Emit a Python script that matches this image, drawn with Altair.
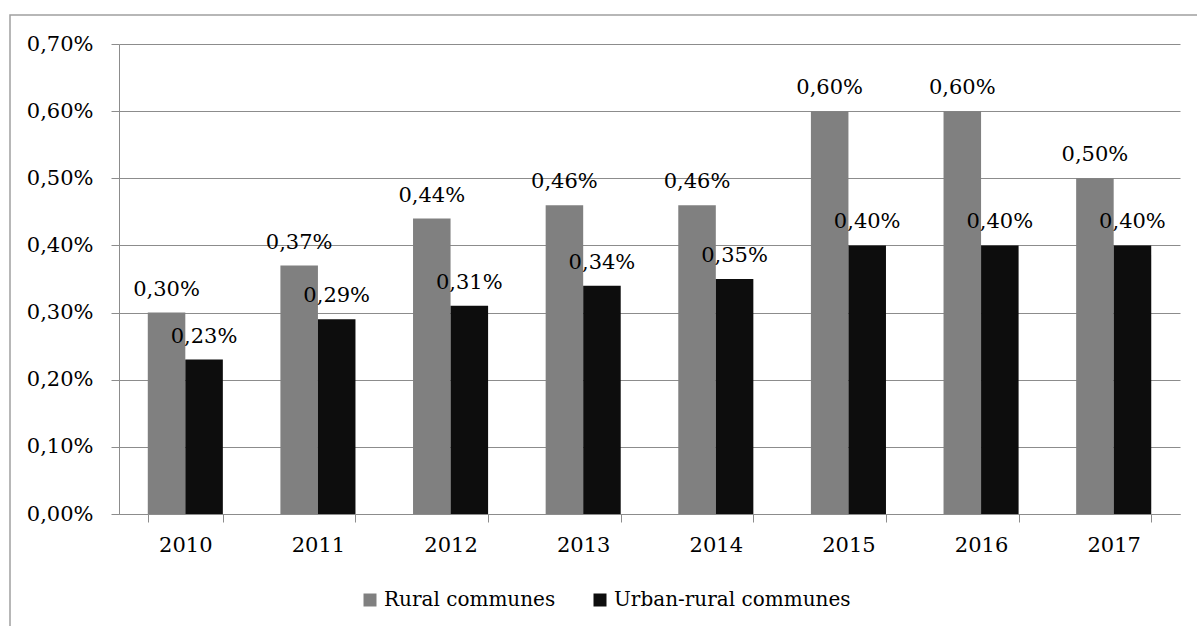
import altair as alt
import pandas as pd

years = ["2010", "2011", "2012", "2013", "2014", "2015", "2016", "2017"]
rural = [0.30, 0.37, 0.44, 0.46, 0.46, 0.60, 0.60, 0.50]
urban = [0.23, 0.29, 0.31, 0.34, 0.35, 0.40, 0.40, 0.40]
series = ["Rural communes", "Urban-rural communes"]
colors = ["#808080", "#0d0d0d"]
y_ticks = [0.0, 0.1, 0.2, 0.3, 0.4, 0.5, 0.6, 0.7]

rows = []
for i, yr in enumerate(years):
    for s, vals in zip(series, [rural, urban]):
        v = vals[i]
        rows.append({"year": yr, "series": s, "value": v,
                     "label": f"{v:.2f}%".replace(".", ",")})
df = pd.DataFrame(rows)

W, H = 1061, 470
FONT = "DejaVu Serif"
FS = 21
GRID = "#8c8c8c"

x_enc = alt.X("year:N", sort=years,
              scale=alt.Scale(paddingInner=0.434, paddingOuter=0.217),
              axis=alt.Axis(title=None, labelAngle=0, tickBand="extent", tickSize=8,
                            tickColor=GRID, domainColor=GRID, labelFont=FONT,
                            labelFontSize=FS, labelColor="#000", labelPadding=12,
                            grid=False))
y_enc = alt.Y("value:Q",
              scale=alt.Scale(domain=[0, 0.7], nice=False),
              axis=alt.Axis(title=None, values=y_ticks, tickSize=8, tickColor=GRID,
                            domainColor=GRID, gridColor=GRID, grid=True,
                            labelFont=FONT, labelFontSize=FS, labelColor="#000",
                            labelPadding=18,
                            labelExpr="replace(format(datum.value, '.2f'), '.', ',') + '%'"))
xoff = alt.XOffset("series:N", sort=series, scale=alt.Scale(paddingInner=0, paddingOuter=0))
color = alt.Color("series:N", sort=series,
                  scale=alt.Scale(domain=series, range=colors),
                  legend=alt.Legend(title=None, orient="none", legendX=241, legendY=546,
                                    direction="horizontal", columns=2, symbolType="square",
                                    symbolSize=169, symbolStrokeWidth=0, labelLimit=0,
                                    labelFont=FONT, labelFontSize=20, labelColor="#000",
                                    labelOffset=4, columnPadding=34, symbolOpacity=1))

bars = alt.Chart(df).mark_bar(opacity=1).encode(x=x_enc, y=y_enc, xOffset=xoff, color=color)
labels = alt.Chart(df).mark_text(font=FONT, fontSize=FS, color="#000", baseline="alphabetic",
                                 dy=-17).encode(
    x=alt.X("year:N", sort=years), y="value:Q", xOffset=alt.XOffset("series:N", sort=series),
    text="label:N")

frame = alt.Chart(pd.DataFrame({"a": [0]})).mark_rect(fill="transparent", stroke="#a0a0a0",
                                                       strokeWidth=1.5).encode(
    x=alt.value(-109), x2=alt.value(1090), y=alt.value(-29), y2=alt.value(640))

chart = alt.layer(frame, bars, labels).properties(
    width=W, height=H,
    autosize=alt.AutoSizeParams(type="none"),
    padding={"left": 119, "top": 44, "right": 17, "bottom": 112},
).configure_view(stroke=None)

chart.save("out.html", embed_options={"renderer": "svg", "actions": False})
